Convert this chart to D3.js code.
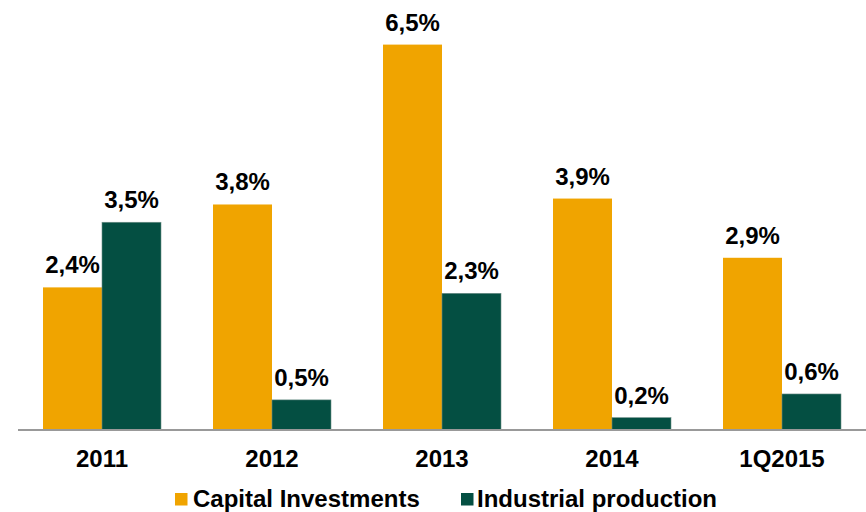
<!DOCTYPE html>
<html><head><meta charset="utf-8">
<script src="https://cdn.jsdelivr.net/npm/d3@7"></script>
<style>body{margin:0;background:#fff}svg{display:block}text{font-family:"Liberation Sans",Arial,sans-serif;font-weight:bold;fill:#000}</style>
</head><body><svg id="c" width="866" height="512"></svg>
<script>
const categories = ["2011","2012","2013","2014","1Q2015"];
const seriesNames = ["Capital Investments","Industrial production"];
const capital = [2.4, 3.8, 6.5, 3.9, 2.9];
const industrial = [3.5, 0.5, 2.3, 0.2, 0.6];
const labelsCapital = ["2,4%","3,8%","6,5%","3,9%","2,9%"];
const labelsIndustrial = ["3,5%","0,5%","2,3%","0,2%","0,6%"];
const colors = ["#F0A400","#044F42"];

const svg = d3.select("#c");
const x0 = d3.scaleBand().domain(categories).range([17, 867]).padding(0);
const x1 = d3.scaleBand().domain(seriesNames).range([26, 144]).padding(0);
const y = d3.scaleLinear().domain([0, 7]).range([429.5, 15]);

const data = categories.map((c,i)=>({c, vals:[
  {s:seriesNames[0], v:capital[i], l:labelsCapital[i], col:colors[0]},
  {s:seriesNames[1], v:industrial[i], l:labelsIndustrial[i], col:colors[1]}]}));

const g = svg.selectAll("g.grp").data(data).join("g").attr("class","grp")
  .attr("transform", d=>`translate(${x0(d.c)},0)`);
g.selectAll("rect").data(d=>d.vals).join("rect")
  .attr("x", d=>x1(d.s)).attr("width", x1.bandwidth())
  .attr("y", d=>y(d.v)).attr("height", d=>y(0)-y(d.v))
  .attr("fill", d=>d.col)
  .attr("stroke", d=>d.s===seriesNames[1] ? "#6f8f88" : "none")
  .attr("stroke-width", 0.6);
g.selectAll("text").data(d=>d.vals).join("text")
  .attr("x", d=>x1(d.s)+x1.bandwidth()/2).attr("y", d=>y(d.v)-14)
  .attr("text-anchor","middle").attr("font-size","24px").text(d=>d.l);

// axis
const ax = svg.append("g").attr("transform",`translate(0,${y(0)})`)
  .call(d3.axisBottom(x0).tickSize(0).tickPadding(0));
ax.select(".domain").attr("stroke","#999").attr("stroke-width",2).attr("d","M18,0.5H866");
ax.selectAll(".tick text").attr("font-size","24px").attr("font-family","Liberation Sans, Arial, sans-serif")
  .attr("font-weight","bold").attr("fill","#000").attr("dy",null).attr("y",37);

// legend
const legendX = [175, 461];
const lg = svg.selectAll("g.leg").data(seriesNames).join("g").attr("class","leg")
  .attr("transform",(d,i)=>`translate(${legendX[i]},493)`);
lg.append("rect").attr("width",12.5).attr("height",12.5).attr("fill",(d,i)=>colors[i]);
lg.append("text").attr("x",(d,i)=>i===0?18:16).attr("y",14).attr("font-size","24px").text(d=>d);
</script></body></html>
